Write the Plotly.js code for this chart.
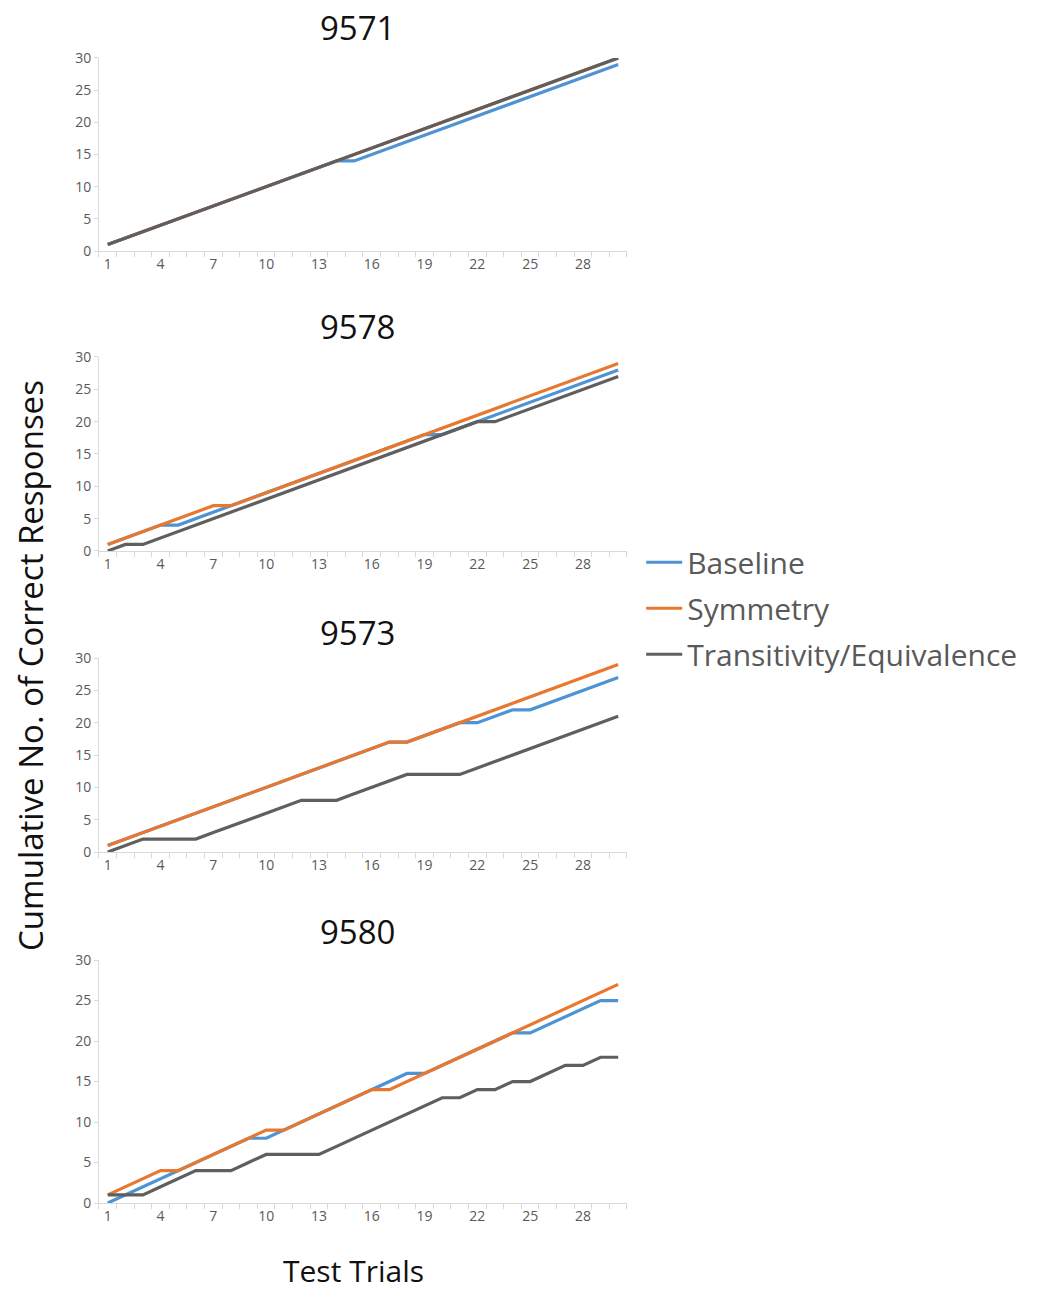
<!DOCTYPE html>
<html>
<head>
<meta charset="utf-8">
<script src="https://cdn.plot.ly/plotly-3.0.1.min.js"></script>
<style>
  body { margin: 0; background: #fff; }
  #chart { width: 1046px; height: 1300px; }
</style>
</head>
<body>
<div id="chart"></div>
<script>
var trials = [];
for (var i = 1; i <= 30; i++) trials.push(i);

var subjects = ['9571', '9578', '9573', '9580'];
var seriesNames = ['Baseline', 'Symmetry', 'Transitivity/Equivalence'];

// cumulative correct responses per trial
var baseline9571 = [1,2,3,4,5,6,7,8,9,10,11,12,13,14,14,15,16,17,18,19,20,21,22,23,24,25,26,27,28,29];
var symmetry9571 = [1,2,3,4,5,6,7,8,9,10,11,12,13,14,15,16,17,18,19,20,21,22,23,24,25,26,27,28,29,30];
var transit9571  = [1,2,3,4,5,6,7,8,9,10,11,12,13,14,15,16,17,18,19,20,21,22,23,24,25,26,27,28,29,30];

var baseline9578 = [1,2,3,4,4,5,6,7,8,9,10,11,12,13,14,15,16,17,18,18,19,20,21,22,23,24,25,26,27,28];
var symmetry9578 = [1,2,3,4,5,6,7,7,8,9,10,11,12,13,14,15,16,17,18,19,20,21,22,23,24,25,26,27,28,29];
var transit9578  = [0,1,1,2,3,4,5,6,7,8,9,10,11,12,13,14,15,16,17,18,19,20,20,21,22,23,24,25,26,27];

var baseline9573 = [1,2,3,4,5,6,7,8,9,10,11,12,13,14,15,16,17,17,18,19,20,20,21,22,22,23,24,25,26,27];
var symmetry9573 = [1,2,3,4,5,6,7,8,9,10,11,12,13,14,15,16,17,17,18,19,20,21,22,23,24,25,26,27,28,29];
var transit9573  = [0,1,2,2,2,2,3,4,5,6,7,8,8,8,9,10,11,12,12,12,12,13,14,15,16,17,18,19,20,21];

var baseline9580 = [0,1,2,3,4,5,6,7,8,8,9,10,11,12,13,14,15,16,16,17,18,19,20,21,21,22,23,24,25,25];
var symmetry9580 = [1,2,3,4,4,5,6,7,8,9,9,10,11,12,13,14,14,15,16,17,18,19,20,21,22,23,24,25,26,27];
var transit9580  = [1,1,1,2,3,4,4,4,5,6,6,6,6,7,8,9,10,11,12,13,13,14,14,15,15,16,17,17,18,18];

var panelData = [
  [baseline9571, symmetry9571, transit9571],
  [baseline9578, symmetry9578, transit9578],
  [baseline9573, symmetry9573, transit9573],
  [baseline9580, symmetry9580, transit9580]
];

var colors = ['#4E94D4', '#E8782F', '#5F5F5F'];

// panel vertical domains (paper coords), top to bottom
var domains = [[0.8069, 0.9554], [0.5762, 0.7254], [0.3446, 0.4938], [0.0746, 0.2615]];
var titleY = [0.9785, 0.7485, 0.5138, 0.2831];

var data = [];
var layout = {
  width: 1046,
  height: 1300,
  margin: {l: 0, r: 0, t: 0, b: 0},
  paper_bgcolor: '#fff',
  plot_bgcolor: '#fff',
  font: {family: 'Open Sans, sans-serif', color: '#595959'},
  showlegend: true,
  legend: {
    x: 0.613, y: 0.5875, xanchor: 'left', yanchor: 'top',
    font: {size: 30, color: '#595959'},
    traceorder: 'grouped',
    tracegroupgap: 4,
    itemwidth: 36
  },
  annotations: []
};

for (var p = 0; p < 4; p++) {
  var sfx = p === 0 ? '' : String(p + 1);
  for (var s = 0; s < 3; s++) {
    data.push({
      x: trials,
      y: panelData[p][s],
      type: 'scatter',
      mode: 'lines',
      name: seriesNames[s],
      legendgroup: seriesNames[s],
      showlegend: p === 0,
      line: {color: colors[s], width: 3.2},
      xaxis: 'x' + sfx,
      yaxis: 'y' + sfx
    });
  }
  layout['xaxis' + sfx] = {
    domain: [0.0946, 0.5994],
    range: [0.5, 30.5],
    anchor: 'y' + sfx,
    tickmode: 'linear', tick0: 1, dtick: 3,
    ticks: '',
    showgrid: false, zeroline: false,
    showline: true, linecolor: '#d9d9d9', linewidth: 1,
    tickfont: {size: 14, color: '#595959'},
    minor: {ticks: 'outside', tick0: 0.5, dtick: 1, ticklen: 5, tickcolor: '#d9d9d9', showgrid: false}
  };
  layout['yaxis' + sfx] = {
    domain: domains[p],
    range: [0, 30],
    anchor: 'x' + sfx,
    tickmode: 'linear', tick0: 0, dtick: 5,
    ticks: 'outside', ticklen: 4, tickcolor: '#d9d9d9',
    showgrid: false, zeroline: false,
    showline: true, linecolor: '#d9d9d9', linewidth: 1,
    tickfont: {size: 14, color: '#595959'}
  };
  layout.annotations.push({
    text: subjects[p],
    xref: 'paper', yref: 'paper',
    x: 0.342, y: titleY[p],
    xanchor: 'center', yanchor: 'middle',
    showarrow: false,
    font: {size: 33, color: '#111'}
  });
}

layout.annotations.push({
  text: 'Cumulative No. of Correct Responses',
  xref: 'paper', yref: 'paper',
  x: 0.029, y: 0.488,
  xanchor: 'center', yanchor: 'middle',
  textangle: -90,
  showarrow: false,
  font: {size: 33, color: '#111'}
});
layout.annotations.push({
  text: 'Test Trials',
  xref: 'paper', yref: 'paper',
  x: 0.338, y: 0.023,
  xanchor: 'center', yanchor: 'middle',
  showarrow: false,
  font: {size: 30, color: '#111'}
});

Plotly.newPlot('chart', data, layout, {displayModeBar: false, staticPlot: true});
</script>
</body>
</html>
